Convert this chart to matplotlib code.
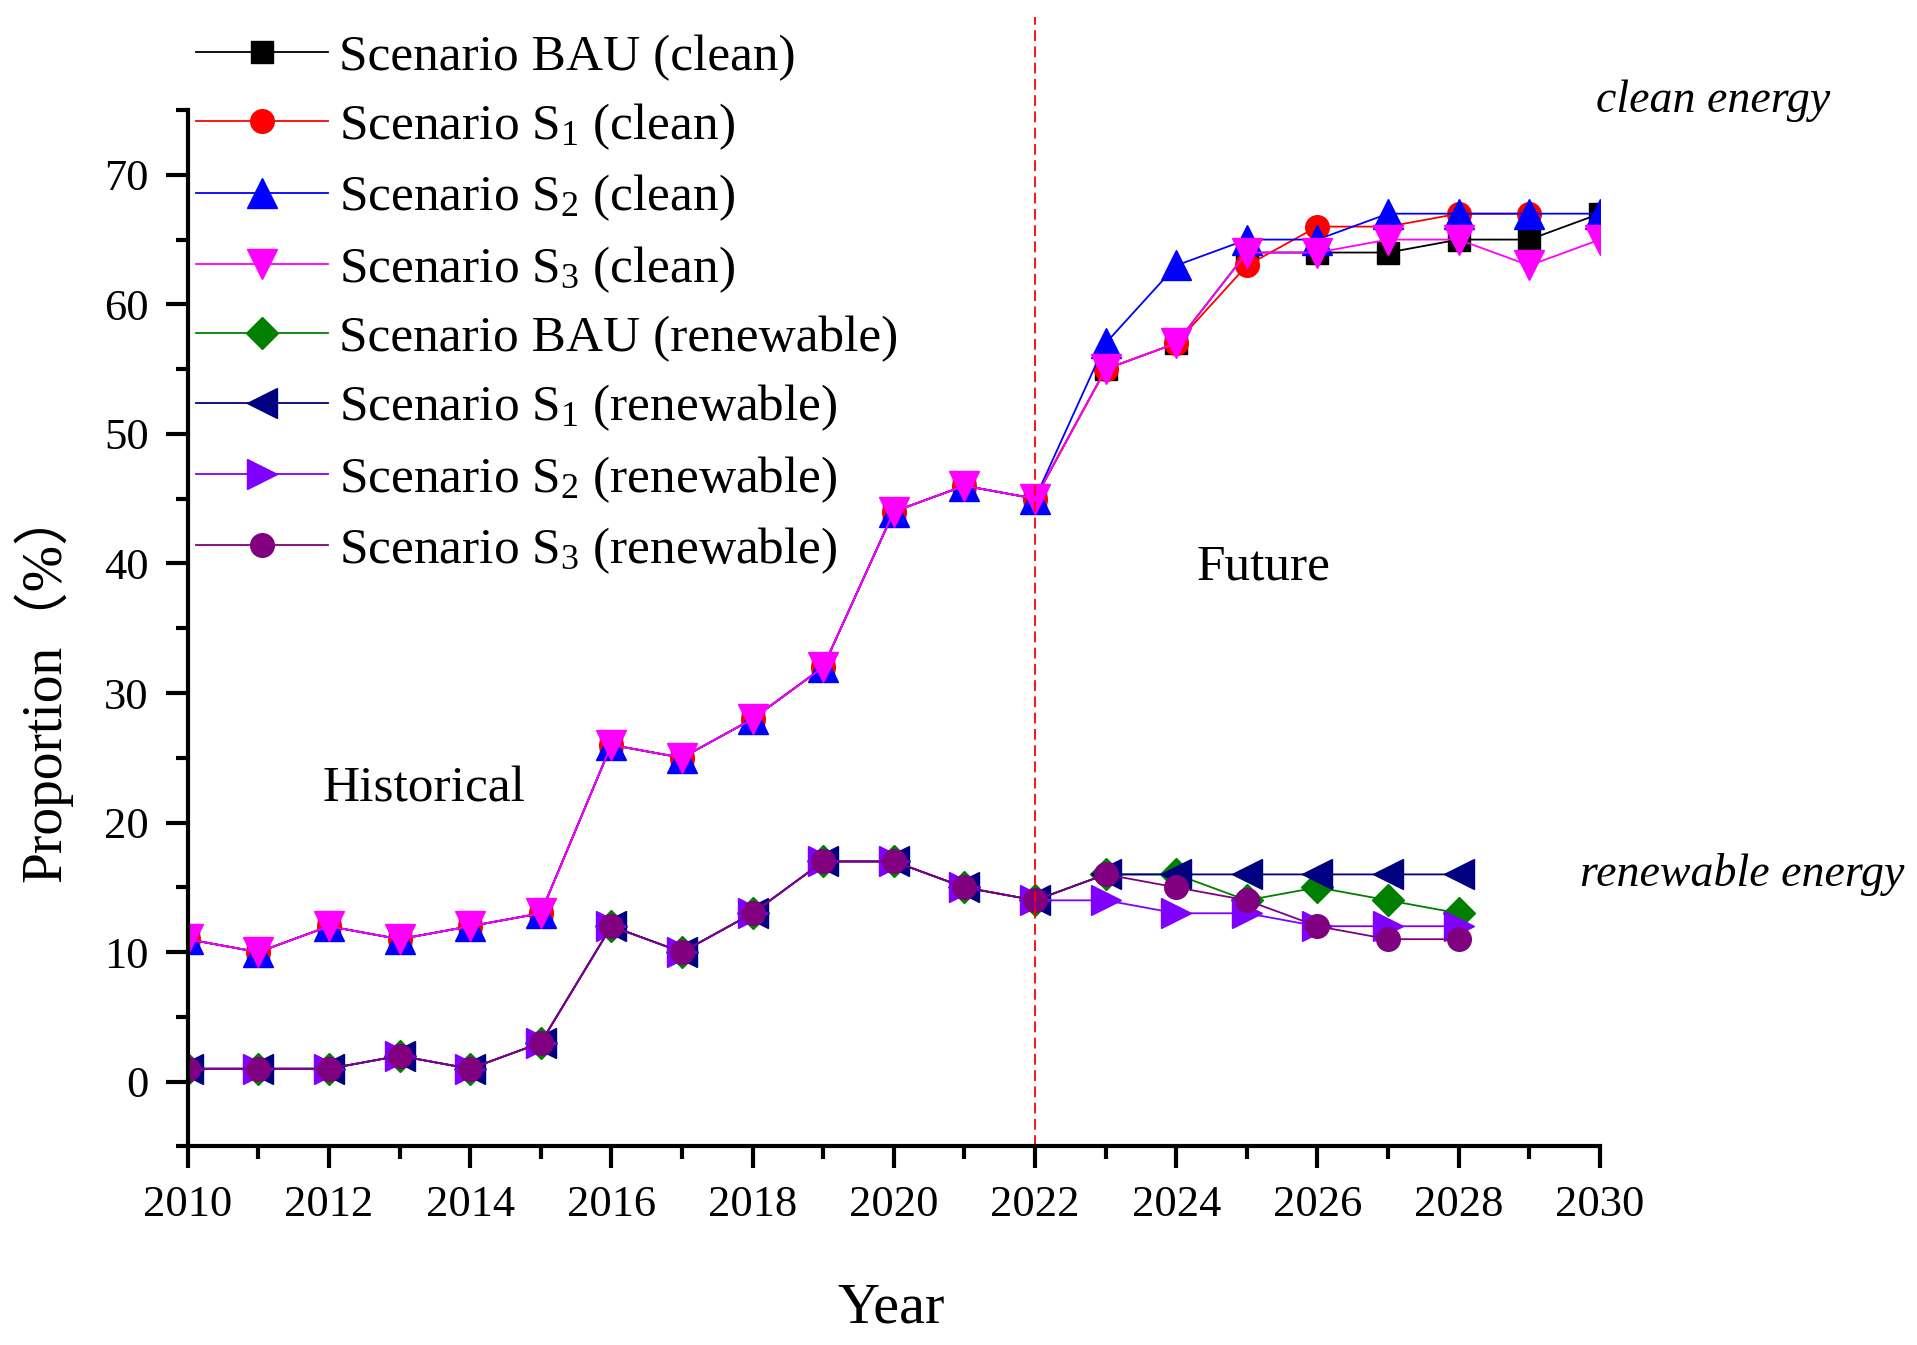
import matplotlib.pyplot as plt
from matplotlib.ticker import MultipleLocator

plt.rcParams['font.family'] = ['Liberation Serif', 'Noto Sans CJK SC']
plt.rcParams['mathtext.default'] = 'regular'

# Historical data (shared by all scenarios)
years_hist = [2010, 2011, 2012, 2013, 2014, 2015, 2016, 2017, 2018, 2019, 2020, 2021, 2022]
clean_hist = [11, 10, 12, 11, 12, 13, 26, 25, 28, 32, 44, 46, 45]
renew_hist = [1, 1, 1, 2, 1, 3, 12, 10, 13, 17, 17, 15, 14]

# Future projections
years_clean = [2023, 2024, 2025, 2026, 2027, 2028, 2029, 2030]
bau_clean = [55, 57, 64, 64, 64, 65, 65, 67]
s1_clean = [55, 57, 63, 66, 66, 67, 67]
s2_clean = [57, 63, 65, 65, 67, 67, 67, 67]
s3_clean = [55, 57, 64, 64, 65, 65, 63, 65]

years_renew = [2023, 2024, 2025, 2026, 2027, 2028]
bau_renew = [16, 16, 14, 15, 14, 13]
s1_renew = [16, 16, 16, 16, 16, 16]
s2_renew = [14, 13, 13, 12, 12, 12]
s3_renew = [16, 15, 14, 12, 11, 11]

labels = ["Scenario BAU (clean)", "Scenario S$_1$ (clean)", "Scenario S$_2$ (clean)",
          "Scenario S$_3$ (clean)", "Scenario BAU (renewable)", "Scenario S$_1$ (renewable)",
          "Scenario S$_2$ (renewable)", "Scenario S$_3$ (renewable)"]

series = [
    (bau_clean, years_clean, clean_hist, 'black', 's', 16),
    (s1_clean, years_clean, clean_hist, '#FF0000', 'o', 17),
    (s2_clean, years_clean, clean_hist, '#0000FF', '^', 22),
    (s3_clean, years_clean, clean_hist, '#FF00FF', 'v', 22),
    (bau_renew, years_renew, renew_hist, '#008000', 'D', 16),
    (s1_renew, years_renew, renew_hist, '#000080', '<', 22),
    (s2_renew, years_renew, renew_hist, '#8000FF', '>', 22),
    (s3_renew, years_renew, renew_hist, '#800080', 'o', 17),
]

fig = plt.figure(figsize=(19.17, 13.45), dpi=100)
ax = fig.add_axes([0.0979, 0.1476, 0.7367, 0.7706])

for (vals, yrs, hist, color, marker, ms), label in zip(series, labels):
    ax.plot(years_hist + yrs[:len(vals)], hist + vals,
            color=color, marker=marker, markersize=ms, linewidth=1.3, label=label)

# divider between historical and projected years
ax.axvline(2022, ymin=0, ymax=1.09, color='#FF0000', linewidth=1.3,
           linestyle=(0, (6, 3)), clip_on=False)

ax.set_xlim(2010, 2030)
ax.set_ylim(-5, 75)
ax.xaxis.set_major_locator(MultipleLocator(2))
ax.xaxis.set_minor_locator(MultipleLocator(1))
ax.yaxis.set_major_locator(MultipleLocator(10))
ax.yaxis.set_minor_locator(MultipleLocator(5))
ax.spines['top'].set_visible(False)
ax.spines['right'].set_visible(False)
ax.spines['left'].set_linewidth(3)
ax.spines['bottom'].set_linewidth(3)
ax.tick_params(which='major', length=16, width=3, labelsize=32, pad=12)
ax.tick_params(which='minor', length=9, width=3)

ax.text(2013.35, 22.6, "Historical", fontsize=37, ha='center', va='center')
ax.text(2025.24, 39.7, "Future", fontsize=37, ha='center', va='center')
fig.text(0.8936, 0.925, "clean energy", fontsize=33, style='italic', ha='center', va='center')
fig.text(0.909, 0.35, "renewable energy", fontsize=33, style='italic', ha='center', va='center')
fig.text(0.465, 0.0275, "Year", fontsize=42, ha='center', va='center')
fig.text(0.0224, 0.491, "Proportion（%）", fontsize=40, rotation=90, ha='center', va='center')

ax.legend(loc='upper left', bbox_to_anchor=(196 / 1917, 1 - 34 / 1345),
          bbox_transform=fig.transFigure, frameon=False, fontsize=37,
          borderpad=0, borderaxespad=0, handlelength=2.57, handletextpad=0.22,
          labelspacing=0.40)

plt.savefig("out.png", dpi=100)
